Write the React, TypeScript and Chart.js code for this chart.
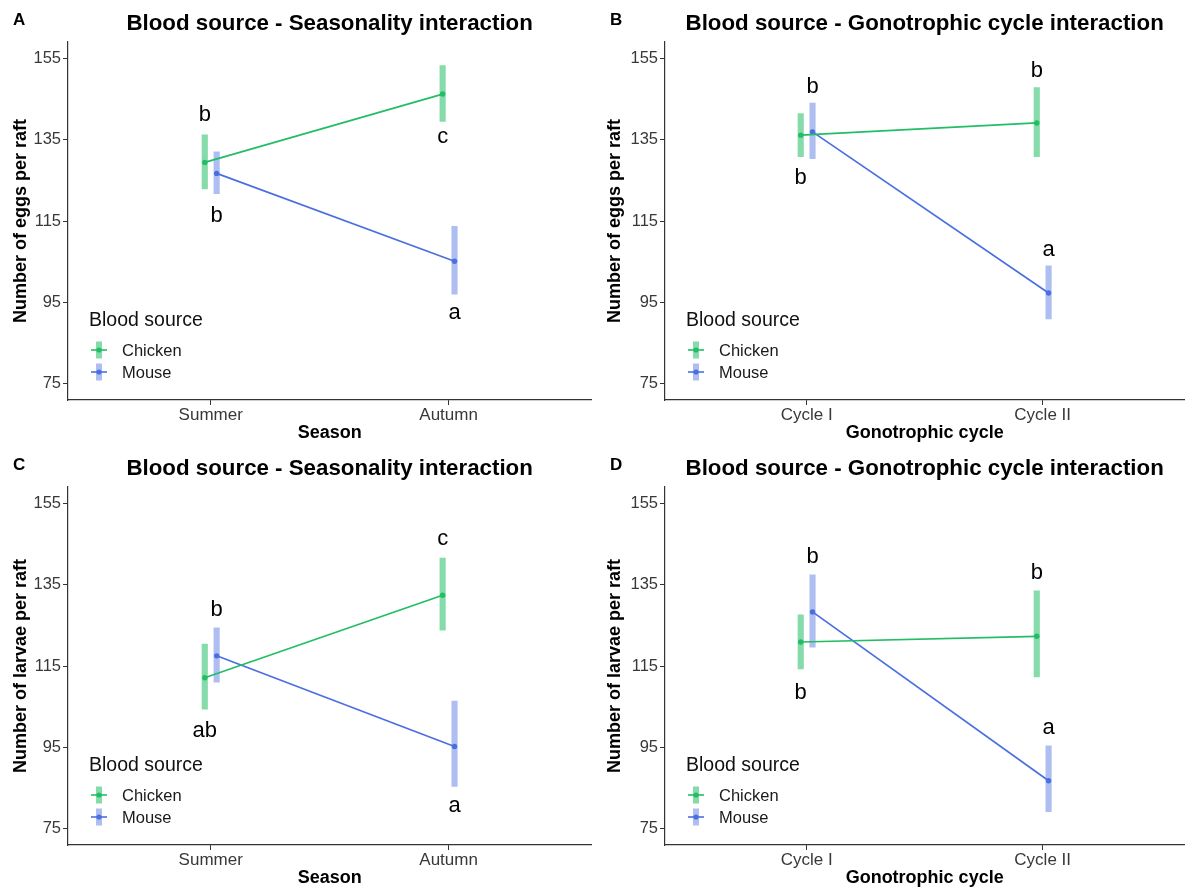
import React, { useEffect, useRef } from 'react';
import { Chart, registerables } from 'chart.js';

Chart.register(...registerables);

// ---------- shared categories / ticks ----------
const seasonCategories = ['Summer', 'Autumn'];
const cycleCategories = ['Cycle I', 'Cycle II'];
const groups = ['Chicken', 'Mouse'];
const yTicks = [75, 95, 115, 135, 155];
const xTickValues = [1, 2];

// ---------- Panel A: eggs per raft x season ----------
const eggsSeasonChickenMean = [129.4, 146.2];
const eggsSeasonChickenLow = [122.9, 139.5];
const eggsSeasonChickenHigh = [136.2, 153.2];
const eggsSeasonMouseMean = [126.7, 105.1];
const eggsSeasonMouseLow = [121.7, 97.0];
const eggsSeasonMouseHigh = [132.0, 113.7];
const eggsSeasonChickenLetters = ['b', 'c'];
const eggsSeasonChickenLetterY = [139.5, 134.2];
const eggsSeasonMouseLetters = ['b', 'a'];
const eggsSeasonMouseLetterY = [114.8, 90.9];

// ---------- Panel B: eggs per raft x gonotrophic cycle ----------
const eggsCycleChickenMean = [136.1, 139.1];
const eggsCycleChickenLow = [130.8, 130.8];
const eggsCycleChickenHigh = [141.4, 147.8];
const eggsCycleMouseMean = [136.9, 97.3];
const eggsCycleMouseLow = [130.3, 90.9];
const eggsCycleMouseHigh = [144.0, 104.0];
const eggsCycleChickenLetters = ['b', 'b'];
const eggsCycleChickenLetterY = [124.2, 150.3];
const eggsCycleMouseLetters = ['b', 'a'];
const eggsCycleMouseLetterY = [146.4, 106.3];

// ---------- Panel C: larvae per raft x season ----------
const larvaeSeasonChickenMean = [112.1, 132.4];
const larvaeSeasonChickenLow = [104.4, 123.8];
const larvaeSeasonChickenHigh = [120.4, 141.5];
const larvaeSeasonMouseMean = [117.5, 95.2];
const larvaeSeasonMouseLow = [111.0, 85.4];
const larvaeSeasonMouseHigh = [124.4, 106.4];
const larvaeSeasonChickenLetters = ['ab', 'c'];
const larvaeSeasonChickenLetterY = [97.6, 144.7];
const larvaeSeasonMouseLetters = ['b', 'a'];
const larvaeSeasonMouseLetterY = [127.4, 79.1];

// ---------- Panel D: larvae per raft x gonotrophic cycle ----------
const larvaeCycleChickenMean = [120.9, 122.3];
const larvaeCycleChickenLow = [114.3, 112.3];
const larvaeCycleChickenHigh = [127.6, 133.5];
const larvaeCycleMouseMean = [128.3, 86.8];
const larvaeCycleMouseLow = [119.6, 79.2];
const larvaeCycleMouseHigh = [137.4, 95.4];
const larvaeCycleChickenLetters = ['b', 'b'];
const larvaeCycleChickenLetterY = [106.8, 136.3];
const larvaeCycleMouseLetters = ['b', 'a'];
const larvaeCycleMouseLetterY = [140.2, 98.3];

// ---------- styles ----------
const FONT = '"Liberation Sans", Arial, Helvetica, sans-serif';
const lineColors = ['#22BD64', '#4B6FE0'];
const barColors = ['rgba(34,189,100,0.55)', 'rgba(75,111,224,0.45)'];
const dodge = [-0.025, 0.025];
const tickTextColor = '#383838';

type PanelSpec = {
  letter: string;
  title: string;
  xTitle: string;
  yTitle: string;
  categories: string[];
  means: number[][];
  lows: number[][];
  highs: number[][];
  letters: string[][];
  letterY: number[][];
};

const panels: PanelSpec[] = [
  {
    letter: 'A',
    title: 'Blood source - Seasonality interaction',
    xTitle: 'Season',
    yTitle: 'Number of eggs per raft',
    categories: seasonCategories,
    means: [eggsSeasonChickenMean, eggsSeasonMouseMean],
    lows: [eggsSeasonChickenLow, eggsSeasonMouseLow],
    highs: [eggsSeasonChickenHigh, eggsSeasonMouseHigh],
    letters: [eggsSeasonChickenLetters, eggsSeasonMouseLetters],
    letterY: [eggsSeasonChickenLetterY, eggsSeasonMouseLetterY],
  },
  {
    letter: 'B',
    title: 'Blood source - Gonotrophic cycle interaction',
    xTitle: 'Gonotrophic cycle',
    yTitle: 'Number of eggs per raft',
    categories: cycleCategories,
    means: [eggsCycleChickenMean, eggsCycleMouseMean],
    lows: [eggsCycleChickenLow, eggsCycleMouseLow],
    highs: [eggsCycleChickenHigh, eggsCycleMouseHigh],
    letters: [eggsCycleChickenLetters, eggsCycleMouseLetters],
    letterY: [eggsCycleChickenLetterY, eggsCycleMouseLetterY],
  },
  {
    letter: 'C',
    title: 'Blood source - Seasonality interaction',
    xTitle: 'Season',
    yTitle: 'Number of larvae per raft',
    categories: seasonCategories,
    means: [larvaeSeasonChickenMean, larvaeSeasonMouseMean],
    lows: [larvaeSeasonChickenLow, larvaeSeasonMouseLow],
    highs: [larvaeSeasonChickenHigh, larvaeSeasonMouseHigh],
    letters: [larvaeSeasonChickenLetters, larvaeSeasonMouseLetters],
    letterY: [larvaeSeasonChickenLetterY, larvaeSeasonMouseLetterY],
  },
  {
    letter: 'D',
    title: 'Blood source - Gonotrophic cycle interaction',
    xTitle: 'Gonotrophic cycle',
    yTitle: 'Number of larvae per raft',
    categories: cycleCategories,
    means: [larvaeCycleChickenMean, larvaeCycleMouseMean],
    lows: [larvaeCycleChickenLow, larvaeCycleMouseLow],
    highs: [larvaeCycleChickenHigh, larvaeCycleMouseHigh],
    letters: [larvaeCycleChickenLetters, larvaeCycleMouseLetters],
    letterY: [larvaeCycleChickenLetterY, larvaeCycleMouseLetterY],
  },
];

function makeDecorPlugin(spec: PanelSpec) {
  return {
    id: 'panelDecor',
    afterDatasetsDraw(chart: any) {
      const { ctx, scales } = chart;
      const xs = scales.x;
      const ys = scales.y;
      ctx.save();
      ctx.fillStyle = '#000';
      ctx.font = `22px ${FONT}`;
      ctx.textAlign = 'center';
      ctx.textBaseline = 'alphabetic';
      spec.letters.forEach((arr, gi) => {
        arr.forEach((txt, i) => {
          const px = xs.getPixelForValue(xTickValues[i] + dodge[gi]);
          const py = ys.getPixelForValue(spec.letterY[gi][i]);
          ctx.fillText(txt, px, py);
        });
      });
      ctx.restore();
    },
    afterDraw(chart: any) {
      const { ctx, chartArea } = chart;
      const L = chartArea.left;
      ctx.save();
      // panel letter
      ctx.fillStyle = '#000';
      ctx.textAlign = 'left';
      ctx.textBaseline = 'alphabetic';
      ctx.font = `bold 17px ${FONT}`;
      ctx.fillText(spec.letter, L - 55, 25);
      // title
      ctx.font = `bold 22.3px ${FONT}`;
      ctx.textAlign = 'center';
      ctx.fillText(spec.title, (chartArea.left + chartArea.right) / 2, 29.5);
      // legend
      ctx.textAlign = 'left';
      ctx.font = `19.5px ${FONT}`;
      ctx.fillStyle = '#111';
      ctx.fillText('Blood source', L + 21, 326);
      const rowCenters = [350, 372];
      groups.forEach((g, gi) => {
        const cy = rowCenters[gi];
        const cx = L + 31;
        ctx.fillStyle = barColors[gi];
        ctx.fillRect(cx - 3, cy - 8.5, 6, 17);
        ctx.strokeStyle = lineColors[gi];
        ctx.lineWidth = 1.6;
        ctx.beginPath();
        ctx.moveTo(cx - 8, cy);
        ctx.lineTo(cx + 8, cy);
        ctx.stroke();
        ctx.fillStyle = lineColors[gi];
        ctx.beginPath();
        ctx.arc(cx, cy, 2.6, 0, Math.PI * 2);
        ctx.fill();
        ctx.fillStyle = '#1a1a1a';
        ctx.font = `16.5px ${FONT}`;
        ctx.fillText(g, L + 54, cy + 6);
      });
      ctx.restore();
    },
  };
}

function buildConfig(spec: PanelSpec, leftWidth: number, rightPad: number): any {
  const datasets: any[] = [];
  groups.forEach((g, gi) => {
    datasets.push({
      type: 'bar',
      label: g + ' interval',
      data: spec.means[gi].map((_, i) => ({
        x: xTickValues[i] + dodge[gi],
        y: [spec.lows[gi][i], spec.highs[gi][i]],
      })),
      backgroundColor: barColors[gi],
      borderWidth: 0,
      barThickness: 5.5,
      grouped: false,
      order: 2,
    });
  });
  groups.forEach((g, gi) => {
    datasets.push({
      type: 'line',
      label: g,
      data: spec.means[gi].map((m, i) => ({ x: xTickValues[i] + dodge[gi], y: m })),
      borderColor: lineColors[gi],
      backgroundColor: lineColors[gi],
      borderWidth: 1.7,
      pointRadius: 2.7,
      pointBorderWidth: 0,
      pointHoverRadius: 2.7,
      tension: 0,
      order: 1,
    });
  });

  const gridCfg = {
    display: true,
    drawOnChartArea: false,
    drawTicks: true,
    offset: false,
    tickLength: 5,
    color: '#333',
    tickColor: '#333',
    lineWidth: 1,
  };

  return {
    type: 'line',
    data: { datasets },
    plugins: [makeDecorPlugin(spec)],
    options: {
      responsive: false,
      animation: false,
      events: [],
      layout: { padding: { top: 42, right: rightPad, left: 0, bottom: 0 } },
      plugins: {
        legend: { display: false },
        tooltip: { enabled: false },
        title: { display: false },
      },
      scales: {
        x: {
          type: 'linear',
          min: 0.4,
          max: 2.6,
          offset: false,
          afterBuildTicks: (axis: any) => {
            axis.ticks = xTickValues.map((v) => ({ value: v }));
          },
          afterFit: (axis: any) => {
            axis.height = 45;
          },
          ticks: {
            autoSkip: false,
            maxRotation: 0,
            padding: 0,
            color: tickTextColor,
            font: { family: FONT, size: 17 },
            callback: (v: number) => spec.categories[Math.round(v) - 1] ?? '',
          },
          grid: { ...gridCfg },
          border: { display: true, color: '#333', width: 1.2 },
          title: {
            display: true,
            text: spec.xTitle,
            color: '#000',
            font: { family: FONT, size: 18, weight: 'bold' },
            padding: { top: 0, bottom: 1 },
          },
        },
        y: {
          type: 'linear',
          min: 71,
          max: 159,
          afterBuildTicks: (axis: any) => {
            axis.ticks = yTicks.map((v) => ({ value: v }));
          },
          afterFit: (axis: any) => {
            axis.width = leftWidth;
          },
          ticks: {
            autoSkip: false,
            padding: 2,
            color: tickTextColor,
            font: { family: FONT, size: 16.5 },
            callback: (v: number) => String(v),
          },
          grid: { ...gridCfg },
          border: { display: true, color: '#333', width: 1.2 },
          title: {
            display: true,
            text: spec.yTitle,
            color: '#000',
            font: { family: FONT, size: 18, weight: 'bold' },
            padding: { top: 10.5, bottom: 0 },
          },
        },
      },
    },
  };
}

function Panel(props: { spec: PanelSpec; left: number; top: number; width: number; leftWidth: number; rightPad: number }) {
  const ref = useRef<HTMLCanvasElement | null>(null);
  const { spec, left, top, width, leftWidth, rightPad } = props;
  useEffect(() => {
    if (!ref.current) return;
    const chart = new Chart(ref.current, buildConfig(spec, leftWidth, rightPad));
    return () => chart.destroy();
  }, [spec, leftWidth, rightPad]);
  return (
    <canvas
      ref={ref}
      width={width}
      height={445}
      style={{ position: 'absolute', left, top, width, height: 445, display: 'block' }}
    />
  );
}

export default function App() {
  return (
    <div style={{ position: 'absolute', left: 0, top: 0, width: 1187, height: 890, background: '#fff', overflow: 'hidden' }}>
      <Panel spec={panels[0]} left={0} top={0} width={594} leftWidth={68} rightPad={1} />
      <Panel spec={panels[1]} left={594} top={0} width={593} leftWidth={71} rightPad={0} />
      <Panel spec={panels[2]} left={0} top={445} width={594} leftWidth={68} rightPad={1} />
      <Panel spec={panels[3]} left={594} top={445} width={593} leftWidth={71} rightPad={0} />
    </div>
  );
}
